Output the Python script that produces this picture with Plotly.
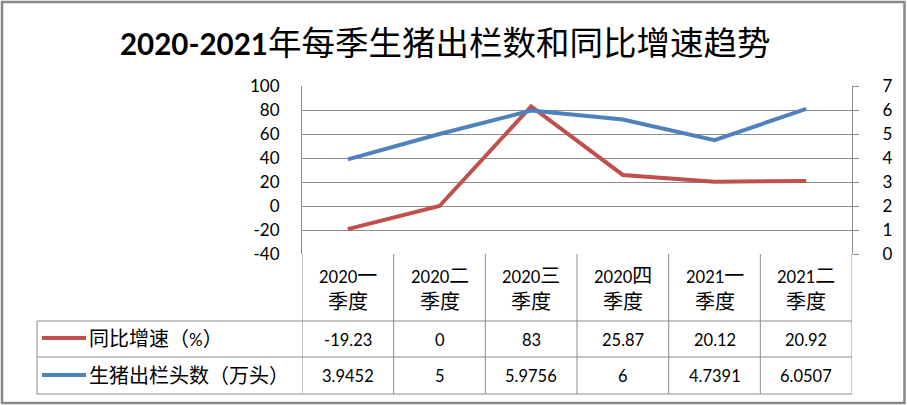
import plotly.graph_objects as go

# ---------------- data ----------------
quarters = ["2020一季度", "2020二季度", "2020三季度", "2020四季度", "2021一季度", "2021二季度"]
growth = [-19.23, 0, 83, 25.87, 20.12, 20.92]              # 同比增速（%）
hogs = [3.9452, 5, 5.9756, 5.6, 4.7391, 6.0507]            # 生猪出栏头数（万头）, as plotted
hogs_table = ["3.9452", "5", "5.9756", "6", "4.7391", "6.0507"]  # as shown in data table
left_ticks = [-40, -20, 0, 20, 40, 60, 80, 100]
right_ticks = [0, 1, 2, 3, 4, 5, 6, 7]
series_names = ["同比增速（%）", "生猪出栏头数（万头）"]
title_text = "2020-2021年每季生猪出栏数和同比增速趋势"

# ---------------- styling ----------------
W, H = 907, 405
RED = "#C0504D"
BLUE = "#4F81BD"
GRID = "#8C8C8C"
FONT = "Lato, Noto Sans CJK SC, sans-serif"


def px(p):
    return p / W


def py(p):
    return 1 - p / H


def mixed(text, latin_size, cjk_size, bold_latin=False):
    runs, cur, cur_is_latin = [], "", None
    for ch in text:
        is_latin = ord(ch) < 128
        if cur and is_latin != cur_is_latin:
            runs.append((cur, cur_is_latin))
            cur = ""
        cur += ch
        cur_is_latin = is_latin
    if cur:
        runs.append((cur, cur_is_latin))
    out = []
    for s, lat in runs:
        if lat:
            seg = f"<span style='font-size:{latin_size}px'>{s}</span>"
            if bold_latin:
                seg = f"<b>{seg}</b>"
        else:
            seg = f"<span style='font-size:{cjk_size}px'>{s}</span>"
        out.append(seg)
    return "".join(out)


xs = list(range(len(quarters)))

fig = go.Figure()
fig.add_trace(go.Scatter(x=xs, y=growth, mode="lines", name=series_names[0],
                         line=dict(color=RED, width=4), yaxis="y"))
fig.add_trace(go.Scatter(x=xs, y=hogs, mode="lines", name=series_names[1],
                         line=dict(color=BLUE, width=4), yaxis="y2"))

x_dom = [px(302), px(852)]
y_dom = [py(254), py(86)]

fig.update_layout(
    width=W, height=H,
    margin=dict(l=0, r=0, t=0, b=0, pad=0, autoexpand=False),
    paper_bgcolor="white", plot_bgcolor="white",
    showlegend=False,
    font=dict(family=FONT, color="black"),
    xaxis=dict(domain=x_dom, range=[-0.5, len(quarters) - 0.5], showticklabels=False,
               showgrid=False, zeroline=False, showline=False, fixedrange=True,
               automargin=False),
    yaxis=dict(domain=y_dom, range=[left_ticks[0], left_ticks[-1]], tickvals=left_ticks,
               ticktext=[str(v) for v in left_ticks],
               showgrid=True, gridcolor=GRID, gridwidth=1, zeroline=False,
               showline=True, linecolor=GRID, linewidth=1, ticks="",
               tickfont=dict(size=17, family=FONT, color="black"),
               ticklabelstandoff=18, automargin=False),
    yaxis2=dict(domain=y_dom, range=[right_ticks[0], right_ticks[-1]], tickvals=right_ticks,
                ticktext=[str(v) for v in right_ticks],
                overlaying="y", side="right", anchor="x",
                showgrid=False, zeroline=False,
                showline=True, linecolor=GRID, linewidth=1,
                ticks="outside", ticklen=6, tickcolor=GRID,
                tickfont=dict(size=17, family=FONT, color="black"),
                ticklabelstandoff=20, automargin=False),
)

shapes = []
# data table horizontal lines
for yy in [321, 357, 394]:
    shapes.append(dict(type="line", xref="paper", yref="paper", x0=px(37), x1=px(852),
                       y0=py(yy), y1=py(yy), line=dict(color=GRID, width=1)))
# column borders of the data table follow the category axis
for i in range(len(quarters) + 1):
    shapes.append(dict(type="line", xref="x", yref="paper", x0=i - 0.5, x1=i - 0.5,
                       y0=py(394), y1=py(254), line=dict(color=GRID, width=1)))
shapes.append(dict(type="line", xref="paper", yref="paper", x0=px(37), x1=px(37),
                   y0=py(394), y1=py(321), line=dict(color=GRID, width=1)))
# legend keys
for yy, col in [(338, RED), (375, BLUE)]:
    shapes.append(dict(type="line", xref="paper", yref="paper", x0=px(42), x1=px(86),
                       y0=py(yy), y1=py(yy), line=dict(color=col, width=4)))
# outer border
shapes.append(dict(type="rect", xref="paper", yref="paper", x0=px(2), x1=px(904.5),
                   y0=py(403), y1=py(2), line=dict(color="#888888", width=2.5)))
fig.update_layout(shapes=shapes)

ann = []
# title
ann.append(dict(xref="paper", yref="paper", x=px(445), y=py(42), xanchor="center", yanchor="middle",
                text=mixed(title_text, 29.5, 33.5, bold_latin=True), showarrow=False,
                font=dict(family=FONT, size=33.5, color="black")))
# header row
for i, q in enumerate(quarters):
    ann.append(dict(xref="x", yref="paper", x=i, y=py(275), xanchor="center", yanchor="middle",
                    text=mixed(q[:5], 16.5, 20), showarrow=False,
                    font=dict(family=FONT, size=16.5, color="black")))
    ann.append(dict(xref="x", yref="paper", x=i, y=py(300.5), xanchor="center", yanchor="middle",
                    text=mixed(q[5:], 16.5, 20), showarrow=False,
                    font=dict(family=FONT, size=20, color="black")))
# values rows
for i in xs:
    ann.append(dict(xref="x", yref="paper", x=i, y=py(340), xanchor="center", yanchor="middle",
                    text=f"{growth[i]:g}", showarrow=False,
                    font=dict(family=FONT, size=16.5, color="black")))
    ann.append(dict(xref="x", yref="paper", x=i, y=py(376), xanchor="center", yanchor="middle",
                    text=hogs_table[i], showarrow=False,
                    font=dict(family=FONT, size=16.5, color="black")))
# legend labels
for name, yy in zip(series_names, [338, 375]):
    ann.append(dict(xref="paper", yref="paper", x=px(87), y=py(yy), xanchor="left", yanchor="middle",
                    text=mixed(name, 17, 20), showarrow=False,
                    font=dict(family=FONT, size=20, color="black")))
fig.update_layout(annotations=ann)

fig.write_html("out.html", config={"displayModeBar": False},
               post_script="document.body.style.margin='0';document.body.style.overflow='hidden';")
